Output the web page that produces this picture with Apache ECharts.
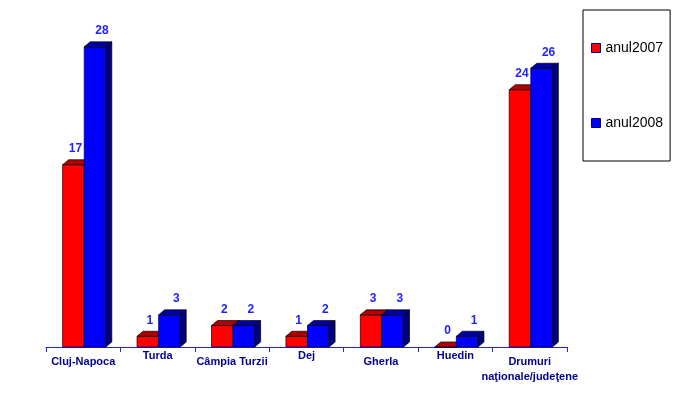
<!DOCTYPE html>
<html><head><meta charset="utf-8">
<script src="https://cdn.jsdelivr.net/npm/echarts@6/dist/echarts.min.js"></script>
<style>html,body{margin:0;padding:0;background:#fff}#c{width:680px;height:396px}</style>
</head><body><div id="c"></div>
<script>
const categories = ['Cluj-Napoca', 'Turda', 'Câmpia Turzii', 'Dej', 'Gherla', 'Huedin', 'Drumuri\nnaţionale/judeţene'];
const seriesNames = ['anul2007', 'anul2008'];
const values2007 = [17, 1, 2, 1, 3, 0, 24];
const values2008 = [28, 3, 2, 2, 3, 1, 26];
const yMin = 0, yMax = 30;

const FONT = '"Liberation Sans", Arial, sans-serif';

function makeRender(k, front, top, side) {
  return function (params, api) {
    const idx = api.value(0), v = api.value(1);
    const base = api.coord([idx, 0]);
    const tp = api.coord([idx, v]);
    const band = api.size([1, 0])[0];
    const w = band * 0.29;
    const cx = base[0] + 1;
    const x0 = k === 0 ? cx - w : cx;
    const x1 = x0 + w;
    const yb = base[1], yt = tp[1];
    const dx = 6, dy = -5;
    const stroke = '#000';
    const labelShift = k === 0 ? 2 : 7;
    return {
      type: 'group',
      children: [
        { type: 'polygon', shape: { points: [[x1, yb], [x1 + dx, yb + dy], [x1 + dx, yt + dy], [x1, yt]] },
          style: { fill: side, stroke: stroke, lineWidth: 0.7 } },
        { type: 'rect', shape: { x: x0, y: yt, width: w, height: yb - yt },
          style: { fill: front, stroke: stroke, lineWidth: 0.7 } },
        { type: 'polygon', shape: { points: [[x0, yt], [x1, yt], [x1 + dx, yt + dy], [x0 + dx, yt + dy]] },
          style: { fill: top, stroke: stroke, lineWidth: 0.7 } },
        { type: 'text', x: (x0 + x1) / 2 + labelShift, y: yt - 16,
          style: { text: String(v), fill: '#2222ff', font: 'bold 12px ' + FONT, align: 'center', verticalAlign: 'middle' } }
      ]
    };
  };
}

const chart = echarts.init(document.getElementById('c'), null, { renderer: 'canvas' });
chart.setOption({
  animation: false,
  backgroundColor: '#fff',
  grid: { left: 46, right: 113, top: 25.4, bottom: 49 },
  legend: {
    orient: 'vertical', left: 583, top: 10,
    data: seriesNames, icon: 'rect', itemWidth: 9, itemHeight: 9, itemGap: 61,
    padding: [31, 7, 31, 8], borderColor: '#000', borderWidth: 1,
    itemStyle: { borderColor: '#000080', borderWidth: 1 },
    textStyle: { fontSize: 14, fontFamily: FONT, color: '#000' }
  },
  xAxis: {
    type: 'category',
    data: categories.map((c, i) => ({
      value: c,
      textStyle: { padding: i % 2 === 1 ? [0, 0, 0, 0] : [6, 0, 0, 0] }
    })),
    boundaryGap: true,
    axisLine: { lineStyle: { color: '#2020ff', width: 1 } },
    axisTick: { show: true, length: 5, lineStyle: { color: '#2020ff' } },
    axisLabel: {
      interval: 0, margin: 1, fontSize: 11, fontWeight: 'bold', fontFamily: FONT,
      color: '#00009a', lineHeight: 15
    }
  },
  yAxis: {
    type: 'value', min: yMin, max: yMax, show: false
  },
  series: [
    { name: seriesNames[0], type: 'custom', itemStyle: { color: '#ff0000' },
      renderItem: makeRender(0, '#ff0000', '#b00000', '#800000'),
      encode: { x: 0, y: 1 }, data: values2007.map((v, i) => [i, v]), z: 2 },
    { name: seriesNames[1], type: 'custom', itemStyle: { color: '#0000ff' },
      renderItem: makeRender(1, '#0000ff', '#0000a0', '#000080'),
      encode: { x: 0, y: 1 }, data: values2008.map((v, i) => [i, v]), z: 3 }
  ]
});
</script>
</body></html>
